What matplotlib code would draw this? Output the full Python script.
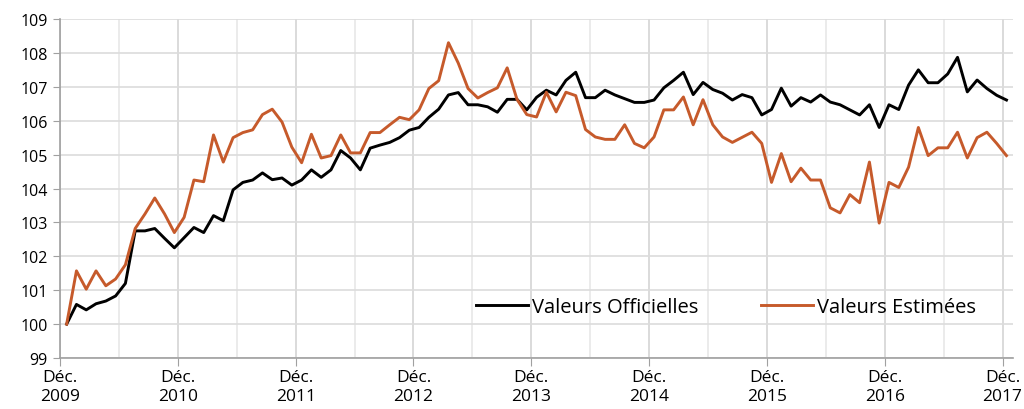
import numpy as np
import matplotlib.pyplot as plt
from matplotlib.ticker import FixedLocator

# Valeurs mensuelles, déc. 2009 -> déc. 2017 (base 100)
officielles = [
    100.0, 100.58, 100.42, 100.6, 100.68, 100.83, 101.2, 102.75, 102.75, 102.82,
    102.53, 102.25, 102.55, 102.85, 102.7, 103.2, 103.05, 103.96, 104.18, 104.25,
    104.46, 104.26, 104.31, 104.1, 104.25, 104.55, 104.33, 104.55, 105.12, 104.9,
    104.55, 105.19, 105.28, 105.36, 105.5, 105.72, 105.8, 106.1, 106.34, 106.76,
    106.83, 106.47, 106.47, 106.41, 106.25, 106.63, 106.63, 106.32, 106.69, 106.9,
    106.76, 107.19, 107.43, 106.68, 106.68, 106.9, 106.76, 106.65, 106.54, 106.54,
    106.61, 106.97, 107.19, 107.43, 106.77, 107.13, 106.92, 106.81, 106.61, 106.77,
    106.68, 106.17, 106.33, 106.96, 106.43, 106.68, 106.55, 106.76, 106.55, 106.47,
    106.32, 106.17, 106.47, 105.8, 106.47, 106.33, 107.05, 107.5, 107.12, 107.12,
    107.38, 107.87, 106.85, 107.2, 106.95, 106.75, 106.61,
]
estimees = [
    100.0, 101.57, 101.03, 101.57, 101.13, 101.33, 101.75, 102.82, 103.25, 103.72,
    103.25, 102.7, 103.15, 104.25, 104.2, 105.58, 104.78, 105.5, 105.65, 105.73,
    106.18, 106.34, 105.96, 105.22, 104.76, 105.6, 104.9, 104.97, 105.58, 105.05,
    105.05, 105.65, 105.65, 105.88, 106.1, 106.03, 106.32, 106.95, 107.18, 108.3,
    107.7, 106.95, 106.67, 106.83, 106.97, 107.56, 106.63, 106.18, 106.11, 106.84,
    106.26, 106.84, 106.74, 105.74, 105.52, 105.45, 105.45, 105.88, 105.33, 105.2,
    105.52, 106.32, 106.32, 106.7, 105.88, 106.62, 105.88, 105.52, 105.36, 105.51,
    105.66, 105.33, 104.18, 105.03, 104.2, 104.6, 104.25, 104.25, 103.43, 103.28,
    103.82, 103.58, 104.78, 102.98, 104.18, 104.03, 104.63, 105.8, 104.97, 105.2,
    105.2, 105.66, 104.9, 105.5, 105.66, 105.33, 104.97,
]
tick_labels = ["Déc.\n2009", "Déc.\n2010", "Déc.\n2011", "Déc.\n2012", "Déc.\n2013",
               "Déc.\n2014", "Déc.\n2015", "Déc.\n2016", "Déc.\n2017"]

plt.rcParams['font.family'] = ['Open Sans', 'DejaVu Sans']

fig = plt.figure(figsize=(10.24, 4.10), dpi=100)
ax = fig.add_axes([0.0586, 0.1244, 0.9305, 0.8268])

x = np.arange(len(officielles))
ax.plot(x, officielles, color='black', lw=2.1, label='Valeurs Officielles', zorder=3)
ax.plot(x, estimees, color='#C65A2B', lw=2.1, label='Valeurs Estimées', zorder=3)

# axes
major = np.linspace(-0.68, 95.6, len(tick_labels))
minor = (major[:-1] + major[1:]) / 2
ax.xaxis.set_major_locator(FixedLocator(major))
ax.xaxis.set_minor_locator(FixedLocator(minor))
ax.set_xticklabels(tick_labels, fontsize=12.5, linespacing=1.25)
ax.set_xlim(-0.68, 96.65)
ax.set_ylim(99, 109)
ax.set_yticks(np.arange(99, 110, 1))
ax.tick_params(axis='y', labelsize=11.5, length=5, color='#a0a0a0', pad=4)
ax.tick_params(axis='x', which='major', length=6, color='#a0a0a0', pad=2)
ax.tick_params(axis='x', which='minor', length=0)

ax.grid(True, axis='y', color='#dcdcdc', lw=1.2)
ax.grid(True, axis='x', which='major', color='#d4d4d4', lw=1.2)
ax.grid(True, axis='x', which='minor', color='#e8e8e8', lw=1.2)
ax.set_axisbelow(True)

for s in ['top', 'right']:
    ax.spines[s].set_visible(False)
for s in ['left', 'bottom']:
    ax.spines[s].set_color('#a0a0a0')
    ax.spines[s].set_linewidth(1.2)

ax.legend(loc='center left', bbox_to_anchor=(0.428, 0.15), ncol=2, frameon=False,
          fontsize=14.5, handlelength=2.6, handletextpad=0.2, columnspacing=3.1,
          borderaxespad=0)

plt.savefig('out.png', dpi=100)
